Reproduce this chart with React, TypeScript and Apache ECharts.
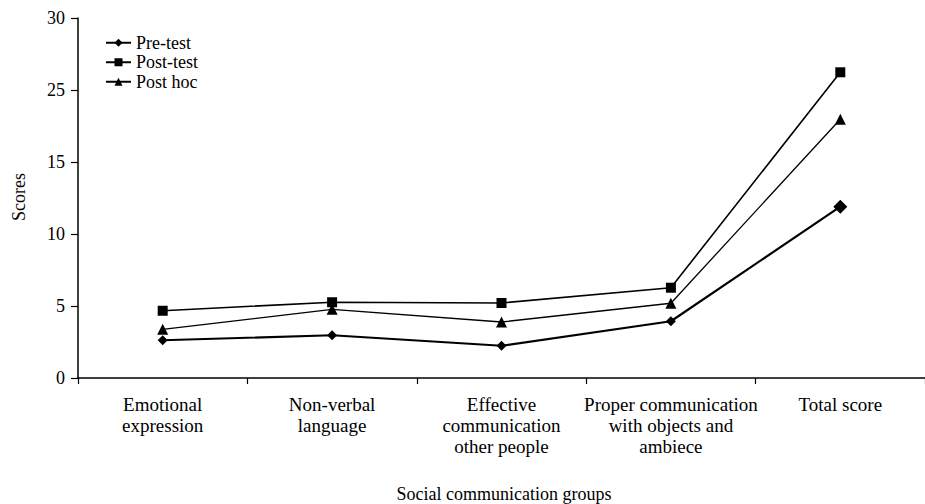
import React, { useEffect, useRef } from "react";
import * as echarts from "echarts";

const categories = [
  "Emotional\nexpression",
  "Non-verbal\nlanguage",
  "Effective\ncommunication\nother people",
  "Proper communication\nwith objects and\nambiece",
  "Total score",
];
const seriesNames = ["Pre-test", "Post-test", "Post hoc"];
const preTest = [2.62, 2.97, 2.24, 3.94, 11.9];
const postTest = [4.67, 5.26, 5.21, 6.27, 21.23];
const postHoc = [3.38, 4.77, 3.89, 5.19, 17.97];
const yTickLabels = ["0", "5", "10", "15", "25", "30"];
const yAxisTitle = "Scores";
const xAxisTitle = "Social communication groups";

const FONT = "Liberation Serif, Times New Roman, serif";

export default function App() {
  const ref = useRef<HTMLDivElement>(null);
  useEffect(() => {
    document.body.style.margin = "0";
    const chart = echarts.init(ref.current!, null, { renderer: "svg" });
    const baseLine = (name: string, data: number[], symbol: string, width: number, size: any) => ({
      name,
      type: "line",
      data,
      symbol,
      symbolSize: size,
      showSymbol: true,
      lineStyle: { color: "#000", width },
      itemStyle: { color: "#000" },
      emphasis: { disabled: true },
    });
    chart.setOption({
      animation: false,
      textStyle: { fontFamily: FONT, color: "#000" },
      grid: { left: 78, top: 18, right: -6, bottom: 126 },
      legend: {
        orient: "vertical",
        left: 105,
        top: 33,
        padding: 0,
        itemWidth: 25,
        itemHeight: 10,
        itemGap: 0,
        data: seriesNames,
        textStyle: { fontFamily: FONT, fontSize: 18, color: "#000", lineHeight: 19.5 },
      },
      xAxis: {
        type: "category",
        data: categories,
        boundaryGap: true,
        axisLine: { lineStyle: { color: "#000", width: 1.5 } },
        axisTick: { show: true, length: 6, lineStyle: { color: "#000", width: 1.2 } },
        axisLabel: {
          interval: 0,
          margin: 16,
          fontFamily: FONT,
          fontSize: 19,
          lineHeight: 21,
          color: "#000",
          align: "center",
          verticalAlign: "top",
        },
        splitLine: { show: false },
      },
      yAxis: {
        type: "value",
        min: 0,
        max: 25,
        interval: 5,
        axisLine: { show: true, lineStyle: { color: "#000", width: 1.5 } },
        axisTick: { show: true, length: 7, lineStyle: { color: "#000", width: 1.2 } },
        axisLabel: {
          margin: 13,
          fontFamily: FONT,
          fontSize: 18,
          color: "#000",
          formatter: (v: number) => yTickLabels[Math.round(v / 5)],
        },
        splitLine: { show: false },
      },
      graphic: [
        {
          type: "text",
          x: 19,
          y: 197,
          rotation: Math.PI / 2,
          style: {
            text: yAxisTitle,
            fontFamily: FONT,
            fontSize: 18,
            fill: "#000",
            align: "center",
            verticalAlign: "middle",
          },
        },
        {
          type: "text",
          x: 504,
          y: 494,
          style: {
            text: xAxisTitle,
            fontFamily: FONT,
            fontSize: 18,
            fill: "#000",
            align: "center",
            verticalAlign: "middle",
          },
        },
      ],
      series: [
        baseLine(seriesNames[0], preTest, "diamond", 2.2, (_v: any, p: any) => (p && p.dataIndex === 4 ? 14 : 10)),
        baseLine(seriesNames[1], postTest, "rect", 1.6, 10),
        baseLine(seriesNames[2], postHoc, "triangle", 1.3, 11),
      ],
    });
    return () => chart.dispose();
  }, []);
  return <div ref={ref} style={{ width: 925, height: 504 }} />;
}
